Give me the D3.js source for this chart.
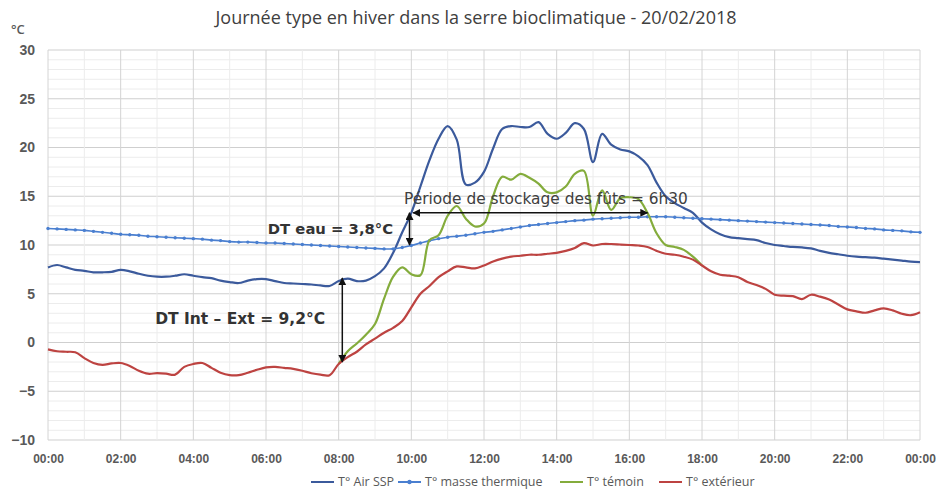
<!DOCTYPE html>
<html>
<head>
<meta charset="utf-8">
<script src="https://cdn.jsdelivr.net/npm/d3@7"></script>
<style>
  body { margin: 0; background: #fff; }
  svg { font-family: "Open Sans", "Liberation Sans", sans-serif; }
  .x.axis .tick text { fill: #595959; font-size: 12px; font-weight: 600; }
  .y.axis .tick text { fill: #595959; font-size: 14px; font-weight: 600; }
  .annot { fill: #333; font-weight: bold; font-family: "DejaVu Sans", sans-serif; }
  .legend text { fill: #595959; font-size: 12.5px; }
</style>
</head>
<body>
<div class="svg-container"></div>
<script>
// time steps every 15 min, in hours (0 -> 24)
const hours = d3.range(0, 24.01, 0.25);

// T° Air SSP
const airSSP = [
  7.7, 7.95, 7.7, 7.45, 7.35, 7.2, 7.2, 7.25, 7.45, 7.3, 7.05, 6.85,
  6.75, 6.75, 6.85, 7.0, 6.85, 6.7, 6.6, 6.35, 6.2, 6.1, 6.35, 6.5,
  6.5, 6.3, 6.1, 6.05, 6.0, 5.95, 5.85, 5.8, 6.3, 6.55, 6.3, 6.35,
  6.8, 7.6, 9.2, 11.3, 13.3, 16.0, 18.7, 20.9, 22.2, 20.8, 16.2, 16.4,
  17.5, 19.9, 21.9, 22.2, 22.1, 22.1, 22.6, 21.4, 20.9, 21.5, 22.5, 21.9,
  18.5, 21.4, 20.3, 19.8, 19.6, 19.1, 18.2, 16.4, 15.0, 14.3, 13.8, 13.3,
  12.3, 11.6, 11.1, 10.8, 10.7, 10.6, 10.5, 10.2, 10.0, 9.9, 9.8, 9.75,
  9.65, 9.4, 9.2, 9.05, 8.9, 8.8, 8.75, 8.7, 8.6, 8.5, 8.4, 8.3, 8.25
];

// T° masse thermique
const masseThermique = [
  11.7, 11.65, 11.6, 11.55, 11.5, 11.4, 11.3, 11.2, 11.1, 11.05, 11.0, 10.9,
  10.85, 10.8, 10.75, 10.7, 10.65, 10.6, 10.5, 10.45, 10.35, 10.3, 10.3, 10.25,
  10.2, 10.2, 10.15, 10.1, 10.05, 10.0, 9.95, 9.9, 9.85, 9.8, 9.75, 9.7,
  9.65, 9.6, 9.6, 9.75, 9.95, 10.2, 10.45, 10.65, 10.8, 10.9, 11.0, 11.15,
  11.3, 11.4, 11.55, 11.7, 11.85, 12.0, 12.1, 12.2, 12.3, 12.4, 12.5, 12.55,
  12.65, 12.7, 12.75, 12.8, 12.85, 12.85, 12.9, 12.9, 12.9, 12.85, 12.8, 12.75,
  12.7, 12.65, 12.6, 12.55, 12.5, 12.45, 12.4, 12.35, 12.3, 12.25, 12.2, 12.15,
  12.1, 12.05, 12.0, 11.9, 11.85, 11.8, 11.7, 11.65, 11.55, 11.5, 11.45, 11.35, 11.3
];

// T° témoin (hidden under the outside curve before 08:00 and after 18:00)
const temoin = [
  null, null, null, null, null, null, null, null, null, null, null, null,
  null, null, null, null, null, null, null, null, null, null, null, null,
  null, null, null, null, null, null, null, null, -2.2, -0.9, -0.1, 0.8,
  1.9, 4.5, 6.75, 7.7, 7.0, 6.9, 10.5, 11.0, 13.0, 14.0, 12.7, 11.9,
  12.2, 15.0, 17.0, 16.7, 17.3, 16.9, 16.3, 15.4, 15.4, 16.0, 17.3, 17.6,
  13.0, 15.6, 13.6, 14.8, 14.9, 14.7, 13.3, 11.2, 10.0, 9.8, 9.5, 8.8,
  7.9, null, null, null, null, null, null, null, null, null, null, null,
  null, null, null, null, null, null, null, null, null, null, null, null, null
];

// T° extérieur
const exterieur = [
  -0.7, -0.9, -0.95, -1.0, -1.6, -2.1, -2.3, -2.15, -2.1, -2.4, -2.9, -3.2,
  -3.15, -3.2, -3.3, -2.5, -2.2, -2.1, -2.6, -3.1, -3.35, -3.35, -3.1, -2.8,
  -2.55, -2.5, -2.6, -2.7, -2.9, -3.15, -3.3, -3.35, -2.2, -1.5, -0.95, -0.2,
  0.4, 1.0, 1.5, 2.2, 3.6, 5.0, 5.8, 6.7, 7.3, 7.8, 7.7, 7.6,
  7.9, 8.3, 8.6, 8.8, 8.9, 9.0, 9.0, 9.1, 9.2, 9.4, 9.7, 10.2,
  9.95, 10.1, 10.1, 10.05, 10.0, 9.95, 9.8, 9.4, 9.1, 9.0, 8.8, 8.5,
  7.9, 7.3, 6.95, 6.85, 6.7, 6.2, 5.9, 5.5, 4.9, 4.8, 4.75, 4.45,
  4.9, 4.7, 4.4, 3.9, 3.4, 3.2, 3.05, 3.3, 3.5, 3.3, 2.95, 2.8, 3.1
];

const seriesNames = ['T° Air SSP', 'T° masse thermique', 'T° témoin', 'T° extérieur'];
const seriesColors = ['#3b5a9c', '#4a7fd0', '#84ac3c', '#bd4341'];
const xTickLabels = ['00:00','02:00','04:00','06:00','08:00','10:00','12:00',
                     '14:00','16:00','18:00','20:00','22:00','00:00'];
const yTicks = [-10, -5, 0, 5, 10, 15, 20, 25, 30];

// annotations: [hour, temp] pairs
const arrowStockage = [[10.05, 13.3], [16.5, 13.3]];
const arrowEau = [[9.95, 13.3], [9.95, 10.0]];
const arrowIntExt = [[8.1, 6.6], [8.1, -2.0]];

const margin = {top: 50, right: 16, bottom: 55, left: 48};
const W = 936, H = 495;
const width = W - margin.left - margin.right;
const height = H - margin.top - margin.bottom;

const svg = d3.select('.svg-container')
  .append('svg')
  .attr('width', W)
  .attr('height', H);

const defs = svg.append('defs');
defs.append('marker')
  .attr('id', 'arr')
  .attr('viewBox', '0 0 10 10')
  .attr('refX', 9).attr('refY', 5)
  .attr('markerWidth', 8).attr('markerHeight', 8)
  .attr('markerUnits', 'userSpaceOnUse')
  .attr('orient', 'auto-start-reverse')
  .append('path')
  .attr('d', 'M0,0 L10,5 L0,10 Z')
  .attr('fill', '#111');

const g = svg.append('g')
  .attr('transform', `translate(${margin.left}, ${margin.top})`);

const xScale = d3.scaleLinear().domain([0, 24]).range([0, width]);
const yScale = d3.scaleLinear().domain([-10, 30]).range([height, 0]);

// grid: minor every hour / degree, major every 2h / 5 degrees
g.append('g').selectAll('line')
  .data(d3.range(-10, 31, 1))
  .join('line')
  .attr('x1', 0).attr('x2', width)
  .attr('y1', d => yScale(d)).attr('y2', d => yScale(d))
  .attr('stroke', d => d % 5 === 0 ? '#cfcfcf' : '#ececec')
  .attr('stroke-width', 1);

g.append('g').selectAll('line')
  .data(d3.range(0, 25, 1))
  .join('line')
  .attr('x1', d => xScale(d)).attr('x2', d => xScale(d))
  .attr('y1', 0).attr('y2', height)
  .attr('stroke', d => d % 2 === 0 ? '#d4d4d4' : '#ececec')
  .attr('stroke-width', 1);

// axes
const xAxis = d3.axisBottom(xScale)
  .tickValues(d3.range(0, 25, 2))
  .tickFormat((d, i) => xTickLabels[i])
  .tickSize(0).tickPadding(14);
g.append('g')
  .attr('class', 'x axis')
  .attr('transform', `translate(0, ${height})`)
  .call(xAxis)
  .call(s => s.select('.domain').remove());

const yAxis = d3.axisLeft(yScale)
  .tickValues(yTicks)
  .tickSize(0).tickPadding(13);
g.append('g')
  .attr('class', 'y axis')
  .call(yAxis)
  .call(s => s.select('.domain').remove());

svg.append('text')
  .attr('x', 11).attr('y', 34)
  .attr('fill', '#595959')
  .style('font-size', '13px')
  .style('font-weight', 600)
  .text('°C');

// title
svg.append('text')
  .attr('x', 476).attr('y', 24)
  .attr('text-anchor', 'middle')
  .attr('fill', '#404040')
  .style('font-size', '18px')
  .style('font-weight', 500)
  .text('Journée type en hiver dans la serre bioclimatique - 20/02/2018');

// lines
const allSeries = [airSSP, masseThermique, temoin, exterieur];
const line = d3.line()
  .defined(d => d[1] !== null)
  .x(d => xScale(d[0]))
  .y(d => yScale(d[1]))
  .curve(d3.curveCatmullRom.alpha(0.5));

allSeries.forEach((vals, k) => {
  const pts = hours.map((h, i) => [h, vals[i]]);
  g.append('path')
    .datum(pts)
    .attr('fill', 'none')
    .attr('stroke', seriesColors[k])
    .attr('stroke-width', k === 1 ? 1.6 : 2.2)
    .attr('d', line);
  if (k === 1) {
    g.append('g').selectAll('circle')
      .data(pts)
      .join('circle')
      .attr('cx', d => xScale(d[0]))
      .attr('cy', d => yScale(d[1]))
      .attr('r', 1.7)
      .attr('fill', seriesColors[k]);
  }
});

// arrows
const straight = d3.line().x(d => xScale(d[0])).y(d => yScale(d[1]));
[arrowStockage, arrowEau, arrowIntExt].forEach(a => {
  g.append('path')
    .attr('d', straight(a))
    .attr('stroke', '#111')
    .attr('stroke-width', 1.5)
    .attr('fill', 'none')
    .attr('marker-start', 'url(#arr)')
    .attr('marker-end', 'url(#arr)');
});

// annotation texts
g.append('text').attr('class', 'annot')
  .attr('x', xScale(6.05)).attr('y', yScale(11.1))
  .style('font-size', '14.8px')
  .text('DT eau = 3,8°C');
g.append('text').attr('class', 'annot')
  .attr('x', xScale(2.95)).attr('y', yScale(1.9))
  .style('font-size', '15.5px')
  .text('DT Int – Ext = 9,2°C');
g.append('text')
  .attr('x', xScale(9.8)).attr('y', yScale(14.25))
  .attr('fill', '#404040')
  .style('font-family', '"DejaVu Sans", sans-serif')
  .style('font-size', '15.4px')
  .text('Période de stockage des fûts = 6h30');

// legend
const legendX = [311, 398, 560, 659];
const legend = svg.append('g').attr('class', 'legend')
  .attr('transform', `translate(0, ${H - 9})`);
seriesNames.forEach((name, k) => {
  const lg = legend.append('g').attr('transform', `translate(${legendX[k]}, 0)`);
  lg.append('line')
    .attr('x1', 0).attr('x2', 23).attr('y1', -4).attr('y2', -4)
    .attr('stroke', seriesColors[k]).attr('stroke-width', 2);
  if (k === 1) {
    lg.append('circle').attr('cx', 11.5).attr('cy', -4).attr('r', 2.2)
      .attr('fill', seriesColors[k]);
  }
  lg.append('text').attr('x', 27).attr('y', 0).text(name);
});
</script>
</body>
</html>
